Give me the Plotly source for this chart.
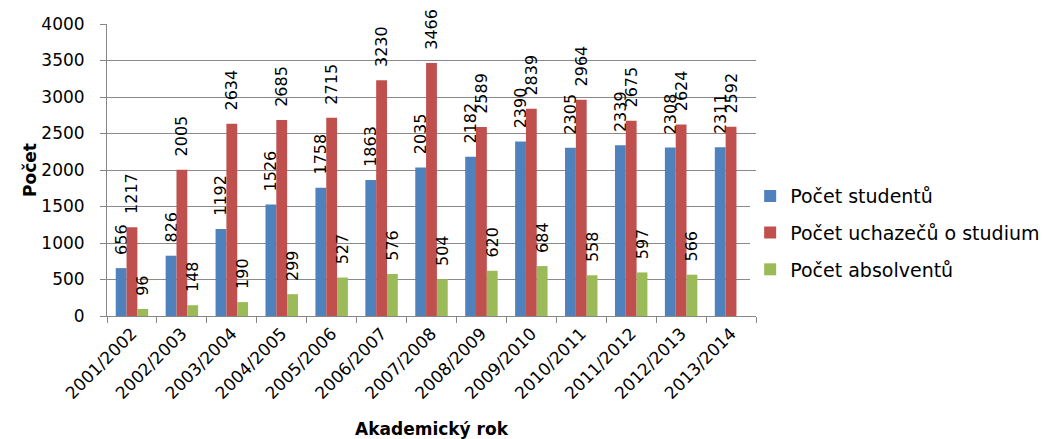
import plotly.graph_objects as go

years = ["2001/2002", "2002/2003", "2003/2004", "2004/2005", "2005/2006", "2006/2007",
         "2007/2008", "2008/2009", "2009/2010", "2010/2011", "2011/2012", "2012/2013", "2013/2014"]
studenti = [656, 826, 1192, 1526, 1758, 1863, 2035, 2182, 2390, 2305, 2339, 2308, 2311]
uchazeci = [1217, 2005, 2634, 2685, 2715, 3230, 3466, 2589, 2839, 2964, 2675, 2624, 2592]
absolventi = [96, 148, 190, 299, 527, 576, 504, 620, 684, 558, 597, 566, None]

series = [
    ("Počet studentů", studenti, "#4F81BD"),
    ("Počet uchazečů o studium", uchazeci, "#C0504D"),
    ("Počet absolventů", absolventi, "#9BBB59"),
]

FONT = "DejaVu Sans"
NB = "\u00a0\u00a0"  # small gap between bar end and rotated label

fig = go.Figure()
for i, (name, vals, color) in enumerate(series):
    fig.add_trace(go.Bar(
        x=years, y=vals, name=name, marker_color=color, marker_line_width=0,
        text=[("" if v is None else NB + str(v)) for v in vals],
        textposition="outside", textangle=-90, constraintext="none",
        cliponaxis=False, legendgroup=f"g{i}",
        textfont=dict(family=FONT, size=16, color="black"),
    ))

# page body has an 8px margin, so the figure is sized/offset accordingly
fig.update_layout(
    width=1043, height=431,
    margin=dict(l=99, r=295, t=16, b=123, autoexpand=False),
    paper_bgcolor="white", plot_bgcolor="white",
    barmode="group", bargap=0.35, bargroupgap=0,
    font=dict(family=FONT, size=17, color="black"),
    showlegend=True,
    legend=dict(x=0.991, y=0.284, xanchor="left", yanchor="middle",
                font=dict(family=FONT, size=19, color="black"),
                tracegroupgap=9, itemwidth=30),
    xaxis=dict(
        type="category", tickangle=-45, showline=True, linecolor="#868686",
        ticks="outside", tickson="boundaries", ticklen=6, tickcolor="#868686",
        tickfont=dict(family=FONT, size=17),
        title=dict(text="<b>Akademický rok</b>", font=dict(family=FONT, size=17), standoff=21),
    ),
    yaxis=dict(
        range=[0, 4000], dtick=500, showline=True, linecolor="#868686",
        ticks="outside", ticklen=6, tickcolor="#868686", ticklabelstandoff=12,
        showgrid=True, gridcolor="#8A8A8A", gridwidth=1, zeroline=False,
        tickfont=dict(family=FONT, size=17),
        title=dict(text="<b>Počet</b>", font=dict(family=FONT, size=17), standoff=0),
    ),
)

fig.write_html("out.html")
